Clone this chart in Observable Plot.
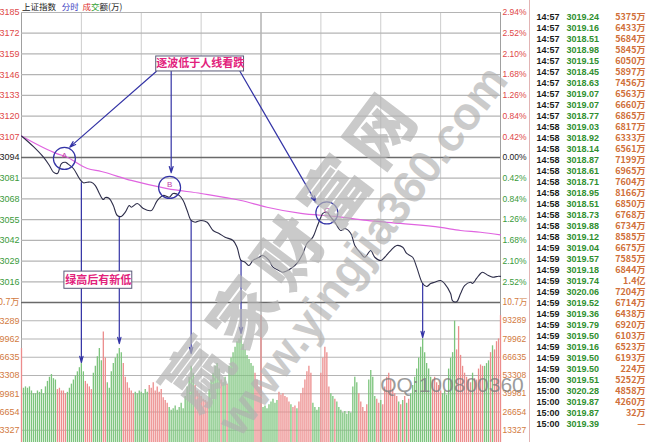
<!DOCTYPE html>
<html><head><meta charset="utf-8">
<script src="https://cdn.jsdelivr.net/npm/d3@7"></script>
<script src="https://cdn.jsdelivr.net/npm/@observablehq/plot@0.6"></script>
<style>
body{margin:0;background:#fff;}
#wrap{position:relative;width:650px;height:442px;overflow:hidden;background:#fff;font-family:"Liberation Sans",Arial,sans-serif;}
#wrap > *{position:absolute;left:0;top:0;}
#title{left:22px;top:0px;font-family:"Noto Sans CJK SC",sans-serif;font-size:8.5px;line-height:12px;color:#222;white-space:nowrap;}
#tbl{left:529px;border-left:1px solid #e2b4b4;}
</style></head><body><div id="wrap">
<div id="title">上证指数&nbsp;&nbsp;&nbsp;<span style="color:#3c3cc0">分时</span>&nbsp;&nbsp;<span style="color:#e03030">成</span><span style="color:#30a030">交</span>额(万)</div>
</div>
<script>
// ---------- axis ticks / labels ----------
const priceTicks = [3016,3029,3042,3055,3068,3081,3094,3107,3120,3133,3146,3159,3172,3185];
const pctLabels  = ["2.52%","2.10%","1.68%","1.26%","0.84%","0.42%","0.00%","0.42%","0.84%","1.26%","1.68%","2.10%","2.52%","2.94%"];
const basePrice = 3094;
const priceBottom = 3003;
const volTicks = [13327,26654,39981,53308,66635,79962,93289];
const volTop = 106616;
const volTopLabel = "10.7万";
const timeGrid = [0,30,60,90,120,150,180,210,240];

// ---------- price line (minute index, price) ----------
const priceMin = [0,6,11,14,16,18,20,22,23,26,29,31,33,35,37,39,41,42,44,46,48,50,52,54,55,58,61,65,68,71,74,76,79,81,83,85,87,90,93,96,99,102,106,108,110,112,114,116,119,121,124,126,129,131,135,138,141,143,146,148,150,151,153,155,157,160,162,165,167,170,172,175,177,180,182,185,188,191,193,196,198,201,203,205,207,210,212,215,216,218,220,222,225,226,228,230,231,234,236,239,240];
const priceVal = [3107.5,3100.8,3094.2,3089.0,3084.8,3084.0,3090.2,3091.0,3090.2,3087.1,3080.8,3078.1,3078.5,3078.5,3076.4,3071.4,3067.6,3068.9,3068.3,3063.9,3057.6,3057.0,3059.7,3063.9,3062.8,3065.1,3062.0,3060.7,3067.0,3070.2,3069.1,3071.4,3070.2,3067.0,3060.7,3054.5,3053.4,3054.5,3053.4,3048.2,3046.3,3044.0,3041.9,3037.7,3029.4,3028.3,3026.2,3029.4,3031.4,3032.5,3029.4,3025.2,3023.1,3022.0,3024.3,3027.5,3033.8,3040.0,3044.0,3050.3,3056.5,3058.9,3059.7,3056.5,3053.4,3048.2,3049.4,3046.3,3038.8,3033.8,3031.4,3035.6,3031.4,3029.4,3031.4,3035.6,3038.8,3037.7,3033.8,3031.4,3025.2,3014.9,3013.0,3014.9,3015.7,3016.8,3014.9,3008.6,3004.0,3003.5,3008.6,3013.6,3015.7,3014.9,3018.1,3021.2,3022.0,3019.9,3018.9,3019.5,3019.4];

// ---------- average price line ----------
const avgMin = [0,18,22,33,40,55,73,90,110,123,140,157,173,190,210,220,230,240];
const avgVal = [3107.5,3096.3,3094.6,3087.1,3085.2,3079.6,3074.5,3071.4,3067.0,3062.8,3058.9,3057.0,3054.5,3052.6,3050.1,3048.2,3047.1,3045.4];

// ---------- per-minute turnover (万) and direction ----------
const volume = [
 73000,
 44000,45000,
 44000,45000,42000,40000,
 40000,42000,41000,43000,40000,
 45000,49000,52000,54000,51000,50000,
 43000,44000,42000,42000,40000,
 41000,44000,47000,50000,53000,
 56000,59000,62000,56000,
 49000,47000,45000,43000,
 55000,60000,67000,73000,64000,
 85000,66000,
 48000,44000,
 56000,62000,66000,69000,73000,70000,
 62000,52000,48000,44000,42000,40000,
 41000,40000,42000,41000,40000,43000,41000,
 46000,44000,48000,42000,45000,41000,43000,
 37000,35000,33000,
 30000,28000,29000,31000,28000,30000,33000,29000,
 38000,45000,52000,60000,55000,
 46000,42000,40000,38000,36000,35000,34000,
 43000,50000,55000,60000,62000,58000,
 50000,48000,52000,47000,
 60000,66000,70000,74000,78000,80000,82000,
 76000,72000,68000,65000,62000,60000,
 55000,50000,45000,
 97000,
 30000,31000,29000,32000,34000,36000,33000,35000,
 41000,39000,40000,38000,37000,
 34000,32000,30000,31000,29000,34000,40000,
 44000,50000,56000,60000,55000,
 33000,30000,28000,30000,
 55000,66000,74000,70000,
 45000,40000,38000,36000,34000,
 30000,28000,26000,27000,25000,27000,26000,
 45000,52000,48000,
 40000,34000,30000,27000,32000,
 50000,57000,52000,
 38000,36000,33000,35000,32000,
 45000,52000,55000,50000,43000,40000,38000,
 34000,32000,35000,38000,33000,36000,40000,
 46000,52000,58000,66000,74000,
 80000,70000,62000,58000,52000,
 50000,52000,48000,46000,42000,
 40000,42000,39000,
 58000,66000,70000,
 93000,
 72000,
 89000,
 68000,60000,
 55000,52000,50000,48000,
 55000,
 51000,50000,
 58000,61000,60000,
 60000,62000,64000,
 70000,75000,72000,
 78000,80000,97000
];
const volDir = ("r gg gggg ggggg gggggg rrrrr ggggg gggg rrrr ggggg rr gg gggggg rrrrrr ggggggg rrrrrrr rrr gggggggg ggggg rrrrrrr gggggg rggr ggggggg gggggg rrr r gggggggg rrrrr rgrrgrr rrrrr gggg rrrr rggrg ggggggg ggg rrrrr ggg grrgr rrrrrrr grgrgrg ggggg ggggg rrrrr ggg ggg g r r rr rrrr g rr rrr ggg rgr rrr").replace(/ /g,"").split("");

// ---------- annotations ----------
const dropArrowMin = [30,49,85,110,201];
const dropArrowLow = [3078.1,3057.0,3054.5,3029.4,3014.9];
const dropArrowTip = [62800,76600,69300,84000,81000];
const circleLabels = ["A","B","C"];
const circleMin = [21.5,74.2,153];
const circleVal = [3093.4,3075.2,3059.2];
const noteTexts = ["逐波低于人线看跌","绿高后有新低"];
const noteM1 = [67.5,21.5], noteM2 = [111.5,55.5], noteP1 = [3148.0,3011.6], noteP2 = [3157.4,3022.4];
const pointerFromM = [67.5,75,109.5], pointerFromP = [3148,3148,3148];
const pointerToM = [24.2,75,147.5], pointerToP = [3100.5,3084.5,3066.0];

// ---------- tick table ----------
const rowTimes = ["14:57","14:57","14:57","14:57","14:57","14:57","14:57","14:57","14:57","14:57","14:58","14:58","14:58","14:58","14:58","14:58","14:58","14:58","14:58","14:58","14:58","14:59","14:59","14:59","14:59","14:59","14:59","14:59","14:59","14:59","14:59","14:59","14:59","15:00","15:00","15:00","15:00","15:00"];
const rowPrices = [3019.24,3019.16,3018.51,3018.98,3019.15,3018.45,3018.63,3019.07,3019.07,3018.77,3019.03,3018.92,3018.14,3018.87,3018.61,3018.71,3018.95,3018.51,3018.73,3019.88,3019.12,3019.04,3019.57,3019.18,3019.74,3020.06,3019.52,3019.36,3019.79,3019.50,3019.16,3019.50,3019.50,3019.51,3020.28,3019.87,3019.87,3019.39];
const rowAmounts = ["5375万","6433万","5684万","5845万","6050万","5897万","7456万","6563万","6660万","6865万","6817万","6333万","6561万","7199万","6965万","7604万","8166万","6850万","6768万","6734万","8585万","6675万","7585万","6844万","1.4亿","7204万","6714万","6438万","6920万","6103万","6523万","6193万","224万","5252万","4858万","4260万","32万","—"];

// ---------- styles ----------
const RED = "#e04848", GREEN = "#3a9a3a", ORANGE = "#d27a3e", BLUE = "#3434a6";
const BAR_RED = "#ec8c8c", BAR_GREEN = "#7cc47c";
const GRID = "#b4b4b4", VGRID = "#cdcdcd";
const CJK = "Noto Sans CJK SC";
const X = {domain:[0,240], range:[21,500], axis:null};

const priceData = priceMin.map((m,i)=>({m, p: priceVal[i]}));
const avgData = avgMin.map((m,i)=>({m, p: avgVal[i]}));
const volData = volume.map((v,i)=>({i, v, dir: volDir[i]}));
const drops = dropArrowMin.map((m,i)=>({m, low: dropArrowLow[i], tip: dropArrowTip[i]}));
const circles = circleLabels.map((t,i)=>({t, m: circleMin[i], p: circleVal[i]}));
const notes = noteTexts.map((t,i)=>({t, m1: noteM1[i], m2: noteM2[i], p1: noteP1[i], p2: noteP2[i]}));
const pointers = pointerFromM.map((m,i)=>({m1: m, p1: pointerFromP[i], m2: pointerToM[i], p2: pointerToP[i]}));

const pricePlot = Plot.plot({
  width: 530, height: 302,
  marginTop: 12, marginBottom: 0, marginLeft: 21, marginRight: 30,
  x: X,
  y: {domain:[priceBottom, 3185], range:[302, 12], axis:null},
  style: {background:"transparent", overflow:"visible", fontFamily:"Liberation Sans, Arial, sans-serif"},
  marks: [
    Plot.ruleX(timeGrid, {y1: priceBottom, y2: 3185, stroke: d => d===120 ? "#8c8c8c" : (d===0||d===240 ? "#a0a0a0" : VGRID), strokeWidth: 1}),
    Plot.ruleY(priceTicks, {stroke: d => d===basePrice ? "#6a6a6a" : GRID, strokeWidth: d => d===basePrice ? 1.4 : 1.2}),
    Plot.text(priceTicks, {y: d=>d, text: d=>String(d), frameAnchor:"left", textAnchor:"end", dx:-2, fontSize:9,
      fill: d => d>basePrice ? RED : d<basePrice ? GREEN : "#222"}),
    Plot.text(priceTicks, {y: d=>d, text: (d,i)=>pctLabels[i], frameAnchor:"right", textAnchor:"start", dx:2, fontSize:8.5,
      fill: d => d>basePrice ? RED : d<basePrice ? GREEN : "#222"}),
    Plot.ruleX(drops, {x:"m", y1:"low", y2: priceBottom, stroke: BLUE, strokeWidth: 1.2}),
    Plot.line(avgData, {x:"m", y:"p", stroke:"#e064e0", strokeWidth:1.2, curve:"monotone-x"}),
    Plot.line(priceData, {x:"m", y:"p", stroke:"#2e2e4a", strokeWidth:1.1, curve:"catmull-rom"}),
    Plot.dot(circles, {x:"m", y:"p", r: 11, stroke: BLUE, strokeWidth:1.2, fill:"none"}),
    Plot.text(circles, {x:"m", y:"p", text:"t", dy:-3, fontSize:8, fill:"#c040a8"}),
    Plot.arrow(pointers, {x1:"m1", y1:"p1", x2:"m2", y2:"p2", stroke: BLUE, strokeWidth:1.2, headLength:8, headAngle:35}),
    Plot.rect(notes, {x1:"m1", x2:"m2", y1:"p1", y2:"p2", fill:"#fff", stroke:"#5a5a78", strokeWidth:1}),
    Plot.text(notes, {x: d=>(d.m1+d.m2)/2, y: d=>(d.p1+d.p2)/2, text:"t", fontSize:11, fontWeight:"bold", fill:"#e2227c", fontFamily: CJK})
  ]
});

const volPlot = Plot.plot({
  width: 530, height: 442,
  marginTop: 302, marginBottom: 0, marginLeft: 21, marginRight: 30,
  x: X,
  y: {domain:[0, volTop], range:[448, 302], axis:null},
  style: {background:"transparent", overflow:"visible", fontFamily:"Liberation Sans, Arial, sans-serif"},
  marks: [
    Plot.ruleX(timeGrid, {y1: 0, y2: volTop, stroke: d => d===120 ? "#8c8c8c" : (d===0||d===240 ? "#a0a0a0" : VGRID), strokeWidth: 1}),
    Plot.ruleY(volTicks, {stroke: GRID, strokeWidth: 1.2}),
    Plot.ruleX(volData, {x:"i", y1:0, y2:"v", stroke: d => d.dir==="r" ? BAR_RED : BAR_GREEN, strokeWidth:1.3}),
    Plot.ruleY([volTop], {stroke:"#6a6a6a", strokeWidth:1.4}),
    Plot.text(volTicks, {y: d=>d, text: d=>String(d), frameAnchor:"left", textAnchor:"end", dx:-2, fontSize:9, fill: ORANGE}),
    Plot.text(volTicks, {y: d=>d, text: d=>String(d), frameAnchor:"right", textAnchor:"start", dx:2, fontSize:8.5, fill: ORANGE}),
    Plot.text([volTop], {y: d=>d, text: [volTopLabel], frameAnchor:"left", textAnchor:"end", dx:-2, fontSize:9, fill: ORANGE, fontFamily: CJK}),
    Plot.text([volTop], {y: d=>d, text: [volTopLabel], frameAnchor:"right", textAnchor:"start", dx:2, fontSize:8.5, fill: ORANGE, fontFamily: CJK}),
    Plot.arrow(drops, {x1:"m", x2:"m", y1: volTop, y2:"tip", stroke: BLUE, strokeWidth:1.2, headLength:8, headAngle:30})
  ]
});

const rows = rowTimes.map((t,k)=>({k, t, p: rowPrices[k].toFixed(2), a: rowAmounts[k]}));
const tablePlot = Plot.plot({
  width: 121, height: 442, margin: 0,
  y: {type:"point", domain: d3.range(rows.length), range:[5, 436], axis:null},
  style: {background:"transparent", fontFamily:"Liberation Sans, Arial, sans-serif"},
  marks: [
    Plot.text(rows, {y:"k", text:"t", frameAnchor:"left", textAnchor:"start", dx:6, fontSize:9, fontWeight:"bold", fill:"#1a1a1a"}),
    Plot.text(rows, {y:"k", text:"p", frameAnchor:"left", textAnchor:"start", dx:36, fontSize:9, fontWeight:"bold", fill:"#2f8f2f"}),
    Plot.text(rows, {y:"k", text:"a", frameAnchor:"right", textAnchor:"end", dx:-6, fontSize:9, fontWeight:"bold", fill:"#d0703a", fontFamily: CJK})
  ]
});
tablePlot.id = "tbl";

const wrap = document.getElementById("wrap");
wrap.insertBefore(volPlot, wrap.firstChild);
wrap.insertBefore(pricePlot, wrap.firstChild.nextSibling);
wrap.appendChild(tablePlot);

// watermark overlay
const ns = "http://www.w3.org/2000/svg";
const wm = document.createElementNS(ns, "svg");
wm.setAttribute("width", 650); wm.setAttribute("height", 442);
wm.style.pointerEvents = "none";
wm.innerHTML = `
<text transform="translate(288,246) rotate(-53)" text-anchor="middle" dominant-baseline="central" font-family="${CJK}" font-weight="900" font-size="66" letter-spacing="10" fill="#b4b4b4" opacity="0.7">赢家财富网</text>
<text transform="translate(362,250) rotate(-53)" text-anchor="middle" dominant-baseline="central" font-family="Liberation Sans, Arial, sans-serif" font-weight="bold" font-size="46" fill="#b0b0b0" opacity="0.65">www.yingjia360.com</text>
<text x="452" y="384" text-anchor="middle" dominant-baseline="central" font-family="Liberation Sans, Arial, sans-serif" font-size="21" fill="#7a7a7a" opacity="0.75">QQ:100800360</text>`;
wrap.appendChild(wm);
</script>
</body></html>
